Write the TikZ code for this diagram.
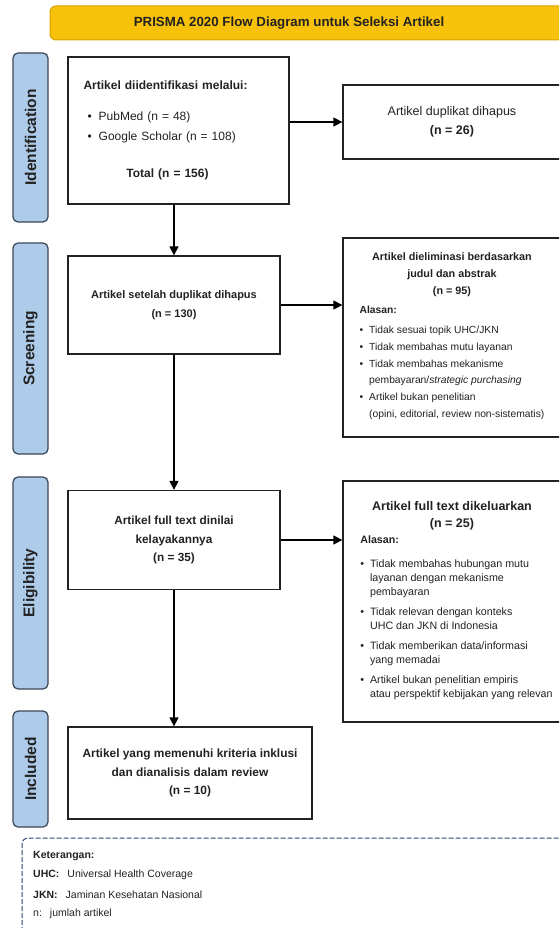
\documentclass[tikz,border=0pt]{standalone}
\usepackage{fontspec}
\setmainfont{Liberation Sans}
\usetikzlibrary{arrows.meta}
\definecolor{titlefill}{HTML}{F8C20A}
\definecolor{titleedge}{HTML}{DDA000}
\definecolor{phasefill}{HTML}{AFCBEA}
\definecolor{phaseedge}{HTML}{3A4656}
\definecolor{legendedge}{HTML}{27467A}
\definecolor{ink}{HTML}{222222}
\newcommand\setfs[2]{\fontsize{#1}{#2}\selectfont}

\begin{document}
\begin{tikzpicture}[x=1pt,y=-1pt,
  every node/.style={text=ink},
  box/.style={draw=ink, line width=1.3pt, fill=white, inner sep=0pt},
  phase/.style={draw=phaseedge, fill=phasefill, line width=1.2pt, rounded corners=5pt,
    minimum height=35pt, inner sep=0pt, rotate=90, font=\bfseries\setfs{15.5}{17}},
  note/.style={anchor=west, inner sep=0pt, font=\setfs{10.5}{12}},
  arr/.style={line width=1.4pt, -{Triangle[length=9pt,width=9pt]}}]
\useasboundingbox (0,0) rectangle (559,928);
\begin{scope}
\clip (0,0) rectangle (559,928);

% title bar
\filldraw[fill=titlefill, draw=titleedge, line width=1pt, rounded corners=6pt] (50,6) rectangle (600,40);
\node (title) at (289,23) {\bfseries\setfs{13.3}{16}PRISMA 2020 Flow Diagram untuk Seleksi Artikel};

% phases
\node[phase, minimum width=169pt] (P1) at (30.5,137.5) {Identification};
\node[phase, minimum width=211pt] (P2) at (30.5,348.5) {Screening};
\node[phase, minimum width=212pt] (P3) at (30.5,583) {Eligibility};
\node[phase, minimum width=116pt] (P4) at (30.5,769) {Included};

% left column
\node[box, minimum width=221pt, minimum height=147pt, text width=190pt, inner xsep=15.5pt,
  align=left, font=\setfs{12}{20}] (A) at (178.5,130.5) {%
  \textbf{Artikel diidentifikasi melalui:}\\[11pt]
  \hspace*{4pt}\textbullet\hspace{7pt}PubMed (n = 48)\\
  \hspace*{4pt}\textbullet\hspace{7pt}Google Scholar (n = 108)\\[17pt]
  \makebox[168pt]{\textbf{Total (n = 156)}}};

\node[box, minimum width=212pt, minimum height=98pt, align=center,
  font=\bfseries\setfs{11}{19}] (C) at (174,305) {Artikel setelah duplikat dihapus\\(n = 130)};

\node[box, minimum width=212pt, minimum height=99pt, align=center,
  font=\bfseries\setfs{11.8}{18.5}] (E) at (174,540) {Artikel full text dinilai\\kelayakannya\\(n = 35)};

\node[box, minimum width=244pt, minimum height=92pt, align=center,
  font=\bfseries\setfs{11.9}{18.5}] (G) at (190,773) {Artikel yang memenuhi kriteria inklusi\\dan dianalisis dalam review\\(n = 10)};

% right column
\node[box, minimum width=218pt, minimum height=74pt, align=center,
  font=\setfs{12.5}{19}] (B) at (452,122) {Artikel duplikat dihapus\\\textbf{(n = 26)}};

\node[box, minimum width=218pt, minimum height=199pt, align=center,
  font=\setfs{10.3}{16.7}] (D) at (452,337.5) {%
  \textbf{\setfs{10.8}{17}Artikel dieliminasi berdasarkan}\\
  \textbf{\setfs{10.8}{17}judul dan abstrak}\\
  \textbf{\setfs{10.8}{17}(n = 95)}\\[5pt]
  \begin{tabular}{@{}l@{\hspace{6pt}}l@{}}
  \multicolumn{2}{@{}l@{}}{\textbf{Alasan:}}\\[3pt]
  \textbullet & Tidak sesuai topik UHC/JKN\\
  \textbullet & Tidak membahas mutu layanan\\
  \textbullet & Tidak membahas mekanisme\\
   & pembayaran/\textit{strategic purchasing}\\
  \textbullet & Artikel bukan penelitian\\
   & (opini, editorial, review non-sistematis)
  \end{tabular}};

\node[box, minimum width=218pt, minimum height=241pt, align=center,
  font=\setfs{12}{17}] (F) at (452,601.5) {%
  \textbf{\setfs{12.5}{17}Artikel full text dikeluarkan}\\
  \textbf{\setfs{12.5}{17}(n = 25)}\\[3pt]
  \hspace*{9pt}{\setfs{10.7}{14}\begin{tabular}{@{}l@{\hspace{6pt}}l@{}}
  \multicolumn{2}{@{}l@{}}{\textbf{Alasan:}}\\[10pt]
  \textbullet & Tidak membahas hubungan mutu\\
   & layanan dengan mekanisme\\
   & pembayaran\\[6pt]
  \textbullet & Tidak relevan dengan konteks\\
   & UHC dan JKN di Indonesia\\[6pt]
  \textbullet & Tidak memberikan data/informasi\\
   & yang memadai\\[6pt]
  \textbullet & Artikel bukan penelitian empiris\\
   & atau perspektif kebijakan yang relevan
  \end{tabular}}};

% arrows
\draw[arr] (A.south -| C.north) -- (C.north);
\draw[arr] (A.east |- B.west) -- (B.west);
\draw[arr] (C.south) -- (E.north);
\draw[arr] (C.east) -- (C.east -| D.west);
\draw[arr] (E.east) -- (E.east -| F.west);
\draw[arr] (E.south) -- (E.south |- G.north);

% legend
\draw[legendedge, line width=1pt, dash pattern=on 5pt off 2pt, rounded corners=6pt] (22,960) -- (22,838) -- (600,838);
\node[note] (K0) at (33,856) {\textbf{Keterangan:}};
\node[note] (K1) at (33,875) {\textbf{UHC:}\hspace{8pt}Universal Health Coverage};
\node[note] (K2) at (33,895) {\textbf{JKN:}\hspace{8pt}Jaminan Kesehatan Nasional};
\node[note] (K3) at (33,914) {n:\hspace{8pt}jumlah artikel};
\end{scope}
\end{tikzpicture}
\end{document}
